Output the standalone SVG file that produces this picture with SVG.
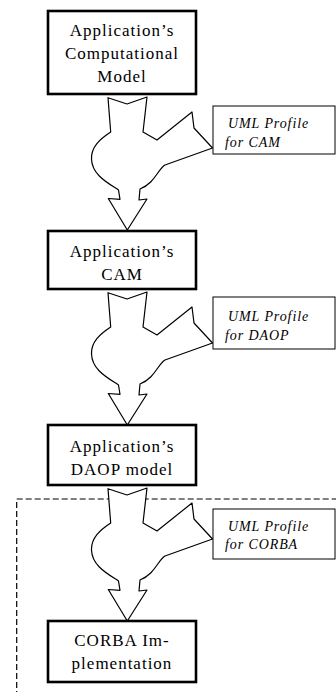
<svg xmlns="http://www.w3.org/2000/svg" width="336" height="692" viewBox="0 0 336 692">
<style>
.box{fill:#fff;stroke:#000;stroke-width:2.6}
.prof{fill:#fff;stroke:#000;stroke-width:1}
.t{font-family:'Liberation Serif','Times New Roman',serif;font-size:17px;letter-spacing:1px;text-anchor:middle;fill:#000}
.p{font-family:'Liberation Serif','Times New Roman',serif;font-size:14px;font-style:italic;letter-spacing:0.9px;fill:#000}
.arr{fill:#fff;stroke:#000;stroke-width:1.2;stroke-linejoin:round}
</style>
<defs>
<path id="arrow" d="M108,0.7 L127,7 L147,0 L143,35 L157,43 L192,15 L194,31 L212.5,51 L165,68 C158,72 155,86 140,92 L139,103 L147,102 L127.3,133 L108.3,101.5 L120,102.3 L118.5,93 C108,86 92,78 91.5,62 C91,50 100,42 110.7,35 Z"/>
</defs>
<rect x="16.7" y="499" width="330" height="210" fill="none" stroke="#000" stroke-width="1.2" stroke-dasharray="6,3"/>
<g id="connectors">
<use href="#arrow" class="arr" transform="translate(0,97)"/>
<use href="#arrow" class="arr" transform="translate(0,292)"/>
<use href="#arrow" class="arr" transform="translate(0,488)"/>
</g>
<g id="node1">
<rect class="box" x="48" y="11" width="148" height="83"/>
<text class="t" x="122" y="35.5">Application’s</text>
<text class="t" x="122" y="58.5">Computational</text>
<text class="t" x="122" y="81.5">Model</text>
</g>
<g id="profile1">
<rect class="prof" x="213" y="106" width="122" height="48"/>
<text class="p" x="228" y="128">UML Profile</text>
<text class="p" x="225" y="147">for CAM</text>
</g>
<g id="node2">
<rect class="box" x="48" y="231" width="148" height="58"/>
<text class="t" x="122" y="257">Application’s</text>
<text class="t" x="122" y="280">CAM</text>
</g>
<g id="profile2">
<rect class="prof" x="213" y="297" width="122" height="52"/>
<text class="p" x="228" y="321">UML Profile</text>
<text class="p" x="225" y="340">for DAOP</text>
</g>
<g id="node3">
<rect class="box" x="48" y="425" width="148" height="60"/>
<text class="t" x="122" y="452">Application’s</text>
<text class="t" x="122" y="475">DAOP model</text>
</g>
<g id="profile3">
<rect class="prof" x="213" y="509" width="122" height="50"/>
<text class="p" x="228" y="531">UML Profile</text>
<text class="p" x="225" y="549">for CORBA</text>
</g>
<g id="node4">
<rect class="box" x="48" y="621" width="148" height="61"/>
<text class="t" x="122" y="646">CORBA Im-</text>
<text class="t" x="122" y="669">plementation</text>
</g>
</svg>
